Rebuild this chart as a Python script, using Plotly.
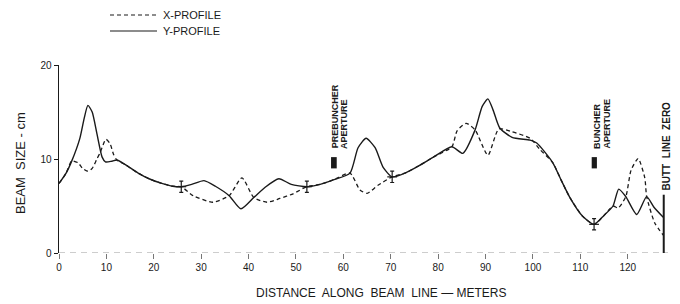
import plotly.graph_objects as go

# ---- data ----
y_dist = [0, 1.5, 2.7, 4.4, 5.3, 6.1, 7.0, 8.0, 9.1, 9.8, 11.0, 12.2, 14.0, 16.7, 19.0, 21.7, 24.0, 25.8,
          28.0, 30.6, 33.0, 35.9, 38.4, 41.1, 43.5, 46.4, 49.0, 52.3, 55.1, 58.0, 61.4, 63.1, 64.8, 66.7,
          68.4, 70.3, 73.0, 76.0, 79.0, 82.9, 85.2, 87.8, 89.3, 90.5, 91.6, 93.0, 95.6, 99.4, 100.8, 104.2,
          106.0, 107.8, 110.5, 112.9, 115.0, 116.9, 118.1, 119.6, 121.9, 124.0, 125.5, 127.5]
y_size = [7.4, 8.5, 9.8, 12.2, 14.3, 15.7, 15.0, 12.7, 10.2, 9.7, 9.75, 9.9, 9.4, 8.5, 7.9, 7.4, 7.1, 7.05,
          7.3, 7.7, 7.1, 6.1, 4.7, 5.9, 7.0, 7.9, 7.3, 7.05, 7.3, 7.8, 8.5, 11.2, 12.2, 11.2,
          9.1, 8.1, 8.5, 9.3, 10.2, 11.3, 10.6, 13.1, 15.6, 16.4, 15.2, 13.3, 12.3, 12.0, 11.7, 9.6,
          7.7, 5.9, 3.9, 3.05, 4.0, 5.0, 6.8, 6.0, 4.1, 6.0, 4.9, 3.8]

x_dist = [0, 1.5, 2.7, 4.0, 5.0, 6.1, 7.0, 8.0, 8.7, 9.9, 10.8, 11.5, 12.2, 14.0, 16.7, 19.0, 21.7, 24.0, 25.8,
          28.3, 32.5, 35.9, 38.6, 41.1, 43.9, 46.6, 49.4, 52.3, 55.1, 58.0, 61.4, 63.5, 65.0, 67.3,
          70.3, 73.0, 76.0, 79.0, 82.9, 84.0, 85.9, 87.8, 90.5, 92.8, 95.6, 99.4, 101.5, 104.2,
          106.0, 107.8, 110.5, 112.9, 115.0, 116.9, 118.0, 119.6, 120.7, 122.2, 123.6, 124.0, 125.7, 127.5]
x_size = [7.4, 8.5, 9.8, 9.6, 9.0, 8.7, 9.0, 10.0, 10.7, 12.1, 11.6, 10.5, 9.9, 9.4, 8.5, 7.9, 7.4, 7.1, 7.05,
          6.1, 5.4, 6.1, 8.0, 5.9, 5.4, 5.8, 6.3, 7.05, 7.3, 7.8, 8.5, 6.7, 6.35, 7.2,
          8.1, 8.5, 9.3, 10.2, 11.3, 13.0, 13.8, 13.1, 10.4, 13.2, 12.9, 12.2, 11.0, 9.6,
          7.7, 5.9, 3.9, 3.05, 4.0, 5.0, 4.8, 6.0, 8.8, 10.05, 8.0, 6.0, 3.2, 1.9]

meas_dist = [25.8, 52.3, 70.3, 112.9]
meas_size = [7.05, 7.05, 8.1, 3.05]

x_ticks = [0, 10, 20, 30, 40, 50, 60, 70, 80, 90, 100, 110, 120]
y_ticks = [0, 10, 20]

series_names = ["X-PROFILE", "Y-PROFILE"]

prebuncher_at = [57.4, 58.6]
buncher_at = [112.4, 113.5]
aperture_size = [9.0, 10.2]
butt_line_zero = 127.6

FONT = "Liberation Sans"
INK = "#1a1a1a"
X_DASH = "4px,3px"

fig = go.Figure()
fig.add_trace(go.Scatter(x=x_dist, y=x_size, mode="lines", name=series_names[0],
                         line=dict(color=INK, width=1.3, dash=X_DASH, shape="spline", smoothing=0.6)))
fig.add_trace(go.Scatter(x=y_dist, y=y_size, mode="lines", name=series_names[1],
                         line=dict(color=INK, width=1.4, shape="spline", smoothing=0.6)))
fig.add_trace(go.Scatter(x=meas_dist, y=meas_size, mode="markers", name="measured",
                         marker=dict(symbol="line-ew-open", size=7, color=INK, line=dict(width=1.2, color=INK)),
                         error_y=dict(type="constant", value=0.6, width=2, thickness=1.2, color=INK)))

# dashed bottom axis line and butt-line-zero marker
fig.add_shape(type="line", xref="x", yref="y", x0=0, x1=128.5, y0=0, y1=0,
              line=dict(color="#9a9a9a", width=1, dash="6px,5px"))
fig.add_shape(type="line", xref="x", yref="y", x0=butt_line_zero, x1=butt_line_zero, y0=0, y1=6.2,
              line=dict(color=INK, width=2))
for lo_hi in (prebuncher_at, buncher_at):
    fig.add_shape(type="rect", xref="x", yref="y", x0=lo_hi[0], x1=lo_hi[1],
                  y0=aperture_size[0], y1=aperture_size[1], fillcolor=INK, line=dict(width=0))

def vtext(x, y, s, size=9):
    fig.add_annotation(x=x, y=y, xref="x", yref="y", text=s, showarrow=False, textangle=-90,
                       xanchor="center", yanchor="bottom",
                       font=dict(family=FONT, size=size, color=INK))

vtext(58.2, 10.9, "<b>PREBUNCHER</b>")
vtext(60.0, 10.9, "<b>APERTURE</b>")
vtext(113.4, 10.9, "<b>BUNCHER</b>")
vtext(115.6, 10.9, "<b>APERTURE</b>")
vtext(128.1, 6.4, "<b>BUTT  LINE  ZERO</b>", size=10)

# legend drawn in paper coordinates (keeps the plot area fixed)
PX = lambda px: (px - 59) / 609.0
PY = lambda py: (253 - py) / 188.0
for i, (name, dash, py) in enumerate(zip(series_names, [X_DASH, "solid"], [15, 31])):
    fig.add_shape(type="line", xref="paper", yref="paper", x0=PX(110), x1=PX(157), y0=PY(py), y1=PY(py),
                  line=dict(color=INK, width=1.2, dash=dash))
    fig.add_annotation(x=PX(161), y=PY(py), xref="paper", yref="paper", text=name, showarrow=False,
                       xanchor="left", yanchor="middle", font=dict(family=FONT, size=11, color=INK))

fig.add_annotation(x=PX(381), y=PY(293), xref="paper", yref="paper",
                   text="DISTANCE  ALONG  BEAM  LINE — METERS",
                   showarrow=False, xanchor="center", yanchor="middle",
                   font=dict(family=FONT, size=12, color=INK))
fig.add_annotation(x=PX(20), y=PY(163), xref="paper", yref="paper", text="BEAM  SIZE - cm",
                   showarrow=False, textangle=-90, xanchor="center", yanchor="middle",
                   font=dict(family=FONT, size=13, color=INK))

fig.update_layout(
    width=680, height=304,
    margin=dict(l=59, r=12, t=65, b=51, autoexpand=False),
    paper_bgcolor="white", plot_bgcolor="white",
    font=dict(family=FONT, size=10, color=INK),
    showlegend=False,
    xaxis=dict(range=[0, 128.5], tickvals=x_ticks, ticktext=[str(v) for v in x_ticks],
               showgrid=False, zeroline=False, showline=False, automargin=False,
               ticks="outside", ticklen=5, tickcolor="#777", tickfont=dict(size=10)),
    yaxis=dict(range=[0, 20], tickvals=y_ticks, ticktext=[str(v) for v in y_ticks],
               showgrid=False, zeroline=False, showline=True, linecolor=INK, linewidth=1.5,
               automargin=False, ticks="outside", ticklen=4, tickcolor=INK, tickfont=dict(size=10)),
)

fig.write_html("out.html", config={"displayModeBar": False, "staticPlot": True},
               post_script="document.body.style.margin='0';document.body.style.overflow='hidden';")
